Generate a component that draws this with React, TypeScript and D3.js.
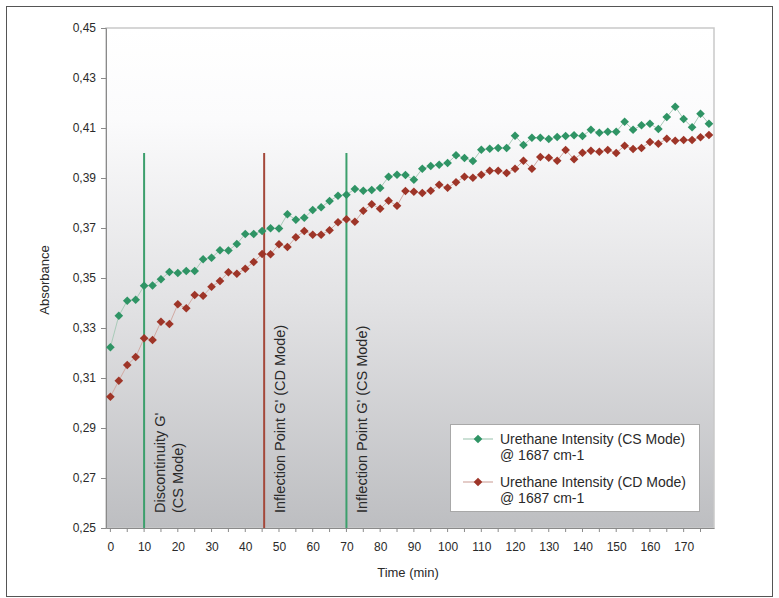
import React, { useRef, useEffect } from "react";
import * as d3 from "d3";

// sampling times (min)
const times = [
  0, 2.5, 5, 7.5, 10, 12.5, 15, 17.5, 20, 22.5, 25, 27.5, 30, 32.5, 35, 37.5, 40, 42.5,
  45, 47.5, 50, 52.5, 55, 57.5, 60, 62.5, 65, 67.5, 70, 72.5, 75, 77.5, 80, 82.5, 85, 87.5,
  90, 92.5, 95, 97.5, 100, 102.5, 105, 107.5, 110, 112.5, 115, 117.5, 120, 122.5, 125, 127.5, 130, 132.5,
  135, 137.5, 140, 142.5, 145, 147.5, 150, 152.5, 155, 157.5, 160, 162.5, 165, 167.5, 170, 172.5, 175, 177.5,
];

const csMode = [
  0.3223, 0.3349, 0.3409, 0.3413, 0.3469, 0.347, 0.3495, 0.3524, 0.352, 0.3528, 0.3528, 0.3575,
  0.3581, 0.3611, 0.361, 0.3636, 0.3676, 0.3676, 0.3688, 0.3699, 0.3698, 0.3755, 0.3733, 0.3741,
  0.3772, 0.3783, 0.3808, 0.3829, 0.3833, 0.3856, 0.3849, 0.3852, 0.386, 0.3905, 0.3913, 0.3912,
  0.3893, 0.3937, 0.3948, 0.3953, 0.396, 0.3991, 0.398, 0.3968, 0.4013, 0.4017, 0.402, 0.402,
  0.4069, 0.4032, 0.4061, 0.4061, 0.4056, 0.4064, 0.4068, 0.4071, 0.4068, 0.4093, 0.4081, 0.4085,
  0.4085, 0.4125, 0.4093, 0.4111, 0.4117, 0.4096, 0.4144, 0.4185, 0.4136, 0.4103, 0.4157, 0.4117,
];

const cdMode = [
  0.3025, 0.3089, 0.3152, 0.3184, 0.3259, 0.3252, 0.3325, 0.3316, 0.3395, 0.3379, 0.3432, 0.3429,
  0.3465, 0.3488, 0.3523, 0.3517, 0.3537, 0.3564, 0.3596, 0.3595, 0.3635, 0.3624, 0.3663, 0.3688,
  0.3673, 0.3673, 0.3691, 0.3723, 0.3735, 0.3725, 0.3769, 0.3795, 0.3777, 0.3809, 0.3789, 0.3848,
  0.3845, 0.384, 0.3849, 0.3873, 0.3861, 0.3883, 0.3905, 0.3901, 0.3913, 0.3929, 0.3929, 0.392,
  0.3937, 0.3969, 0.3937, 0.3984, 0.3981, 0.3969, 0.4012, 0.3975, 0.4001, 0.4009, 0.4005, 0.4012,
  0.4, 0.4029, 0.4016, 0.402, 0.4044, 0.4037, 0.4057, 0.4049, 0.4052, 0.4052, 0.4063, 0.4072,
];

const yTicks = [0.25, 0.27, 0.29, 0.31, 0.33, 0.35, 0.37, 0.39, 0.41, 0.43, 0.45];
const xTicks = [0, 10, 20, 30, 40, 50, 60, 70, 80, 90, 100, 110, 120, 130, 140, 150, 160, 170];

const markers = [
  { time: 10, top: 0.40, color: "#3c9f6c", label: ["Discontinuity G'", "(CS Mode)"] },
  { time: 45.6, top: 0.40, color: "#a4483a", label: ["Inflection Point G' (CD Mode)"] },
  { time: 70, top: 0.40, color: "#3c9f6c", label: ["Inflection Point G' (CS Mode)"] },
];

const seriesInfo = [
  { name: "Urethane Intensity (CS Mode)", sub: "@ 1687 cm-1", values: csMode, color: "#2f9465", line: "#a9cbb9" },
  { name: "Urethane Intensity (CD Mode)", sub: "@ 1687 cm-1", values: cdMode, color: "#9e3528", line: "#d2aaa3" },
];

const W = 779;
const H = 598;
const left = 106, right = 714, top = 28, bottom = 528;
const font = "'Liberation Sans', Arial, sans-serif";
const ink = "#2a2a2a";

const Chart = () => {
  const ref = useRef<SVGSVGElement>(null);

  useEffect(() => {
    const svg = d3.select(ref.current);
    svg.selectAll("*").remove();

    const x = d3.scaleLinear().domain([-1.3, 179]).range([left, right]);
    const y = d3.scaleLinear().domain([0.25, 0.45]).range([bottom, top]);

    // outer frame
    svg.append("rect")
      .attr("x", 6.5).attr("y", 6.5).attr("width", 766).attr("height", 590)
      .attr("fill", "#fff").attr("stroke", "#555").attr("stroke-width", 1);

    const defs = svg.append("defs");
    const grad = defs.append("linearGradient").attr("id", "bg").attr("x1", 0).attr("y1", 0).attr("x2", 0).attr("y2", 1);
    grad.append("stop").attr("offset", "0%").attr("stop-color", "#ffffff");
    grad.append("stop").attr("offset", "18%").attr("stop-color", "#fbfbfc");
    grad.append("stop").attr("offset", "55%").attr("stop-color", "#e2e2e4");
    grad.append("stop").attr("offset", "100%").attr("stop-color", "#bdbec1");

    svg.append("rect")
      .attr("x", left).attr("y", top).attr("width", right - left).attr("height", bottom - top)
      .attr("fill", "url(#bg)").attr("stroke", "#c9c9c9").attr("stroke-width", 1.5);

    // y axis
    const yAxis = d3.axisLeft(y).tickValues(yTicks).tickSize(5).tickPadding(5)
      .tickFormat(d => d3.format(".2f")(d as number).replace(".", ","));
    svg.append("g")
      .attr("transform", `translate(${left},0)`)
      .call(yAxis)
      .call(g => g.select(".domain").attr("stroke", "#8a8a8a"))
      .call(g => g.selectAll(".tick line").attr("stroke", "#8a8a8a"))
      .call(g => g.selectAll(".tick text").attr("fill", ink).attr("font-size", 12).attr("font-family", font));

    // x axis
    const xAxis = d3.axisBottom(x).tickValues(xTicks).tickSize(0).tickPadding(14);
    svg.append("g")
      .attr("transform", `translate(0,${bottom})`)
      .call(xAxis)
      .call(g => g.select(".domain").attr("stroke", "#8a8a8a"))
      .call(g => g.selectAll(".tick text").attr("fill", ink).attr("font-size", 12).attr("font-family", font));
    svg.append("g")
      .selectAll("line")
      .data(d3.range(0, 179, 5))
      .join("line")
      .attr("x1", d => x(d)).attr("x2", d => x(d))
      .attr("y1", bottom).attr("y2", bottom + 4)
      .attr("stroke", "#8a8a8a");

    // axis titles
    svg.append("text")
      .attr("transform", `translate(49,${(top + bottom) / 2 + 2}) rotate(-90)`)
      .attr("text-anchor", "middle")
      .attr("font-family", font).attr("font-size", 13).attr("fill", ink)
      .text("Absorbance");
    svg.append("text")
      .attr("x", 408).attr("y", 577)
      .attr("text-anchor", "middle")
      .attr("font-family", font).attr("font-size", 13).attr("fill", ink)
      .text("Time (min)");

    // vertical event lines + labels
    markers.forEach(m => {
      svg.append("line")
        .attr("x1", x(m.time)).attr("x2", x(m.time))
        .attr("y1", y(m.top)).attr("y2", bottom)
        .attr("stroke", m.color).attr("stroke-width", 2);
      const t = svg.append("text")
        .attr("transform", `translate(${x(m.time) + 20.5},513) rotate(-90)`)
        .attr("font-family", font).attr("font-size", 14.5).attr("fill", ink);
      m.label.forEach((s, i) => {
        t.append("tspan").attr("x", 0).attr("dy", i === 0 ? 0 : 18).text(s);
      });
    });

    const line = d3.line<number>()
      .x((d, i) => x(times[i]))
      .y(d => y(d));
    const diamond = d3.symbol().type(d3.symbolDiamond2).size(48);

    seriesInfo.forEach(s => {
      svg.append("path")
        .attr("d", line(s.values))
        .attr("fill", "none").attr("stroke", s.line).attr("stroke-width", 1);
      svg.append("g")
        .selectAll("path")
        .data(s.values)
        .join("path")
        .attr("d", diamond)
        .attr("transform", (d, i) => `translate(${x(times[i])},${y(d)})`)
        .attr("fill", s.color);
    });

    // legend
    const lg = svg.append("g");
    lg.append("rect")
      .attr("x", 450.5).attr("y", 424.5).attr("width", 249).attr("height", 87)
      .attr("fill", "#fff").attr("stroke", "#a8a8a8");
    seriesInfo.forEach((s, i) => {
      const cy = 439 + i * 43;
      lg.append("line")
        .attr("x1", 463).attr("x2", 493).attr("y1", cy).attr("y2", cy)
        .attr("stroke", s.line).attr("stroke-width", 1.2);
      lg.append("path")
        .attr("d", diamond)
        .attr("transform", `translate(478,${cy})`)
        .attr("fill", s.color);
      const t = lg.append("text")
        .attr("font-family", font).attr("font-size", 14).attr("fill", ink);
      t.append("tspan").attr("x", 500).attr("y", cy + 5).text(s.name);
      t.append("tspan").attr("x", 500).attr("y", cy + 21).text(s.sub);
    });
  });

  return (
    <svg ref={ref} width={W} height={H} style={{ position: "absolute", left: 0, top: 0 }} />
  );
};

export default function App() {
  return <Chart />;
}
